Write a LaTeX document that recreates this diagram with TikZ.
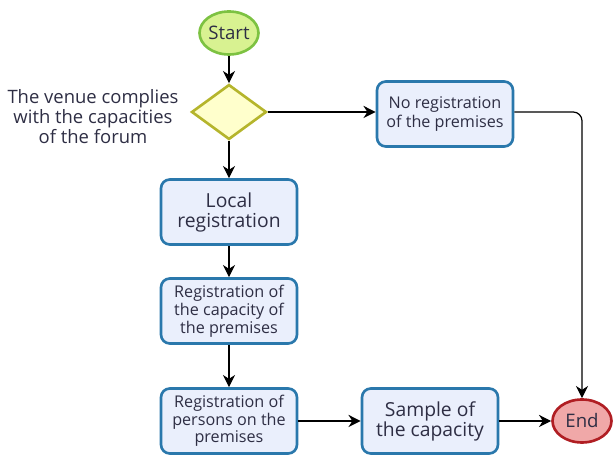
\documentclass[tikz,border=0pt]{standalone}
\usepackage{fontspec}
\setmainfont{Open Sans}
\usetikzlibrary{shapes.geometric,arrows.meta}

\definecolor{startfill}{HTML}{D8F291}
\definecolor{startline}{HTML}{7DC242}
\definecolor{decfill}{HTML}{FFFFCC}
\definecolor{decline}{HTML}{B5B52C}
\definecolor{boxfill}{HTML}{EAEFFC}
\definecolor{boxline}{HTML}{2A78AC}
\definecolor{endfill}{HTML}{F0A8A8}
\definecolor{endline}{HTML}{B01E23}
\definecolor{txt}{HTML}{2E2E44}

\begin{document}
\begin{tikzpicture}[x=0.02cm, y=-0.02cm,
    box/.style={draw=boxline, fill=boxfill, line width=1.5pt, rounded corners=5pt,
        minimum width=2.72cm, minimum height=1.3cm, align=center, text=txt, inner sep=1pt},
    term/.style={ellipse, line width=1.5pt, minimum width=1.18cm, minimum height=0.86cm,
        inner sep=0pt, text=txt, font=\fontsize{10.6}{12}\selectfont},
    flow/.style={-{Stealth[length=7pt,width=7pt]}, line width=0.7pt}]
    \useasboundingbox (0,0) rectangle (613,455);

    % Start and decision
    \node[term, draw=startline, fill=startfill] (start) at (229,33) {Start};
    \node[diamond, draw=decline, fill=decfill, line width=1.5pt, inner sep=0pt,
        minimum width=1.5cm, minimum height=1.1cm] (venue) at (229,112) {};
    \node[align=center, text=txt, font=\fontsize{10.5}{11.4}\selectfont] (venuetxt) at (93,117)
        {The venue complies\\with the capacities\\of the forum};

    % Boxes
    \node[box, font=\fontsize{9.2}{11}\selectfont] (noreg) at (445,114) {No registration\\of the premises};
    \node[box, font=\fontsize{11}{11.4}\selectfont] (local) at (229,212) {Local\\registration};
    \node[box, font=\fontsize{9.2}{8.9}\selectfont] (capreg) at (229,311) {Registration of\\the capacity of\\the premises};
    \node[box, font=\fontsize{9.2}{8.9}\selectfont] (persreg) at (229,421) {Registration of\\persons on the\\premises};
    \node[box, font=\fontsize{11}{11.4}\selectfont] (sample) at (430,421) {Sample of\\the capacity};
    \node[term, draw=endline, fill=endfill] (end) at (582,421) {End};

    % Connectors
    \draw[flow] (start) -- (venue);
    \draw[flow] (venue) -- (noreg.west |- venue);
    \draw[flow] (venue) -- (local);
    \draw[flow] (local) -- (capreg);
    \draw[flow] (capreg) -- (persreg);
    \draw[flow] (persreg) -- (sample);
    \draw[flow] (sample) -- (end);
    \draw[flow, rounded corners=5pt] (noreg.east |- venue) -| (end.north);
\end{tikzpicture}
\end{document}
